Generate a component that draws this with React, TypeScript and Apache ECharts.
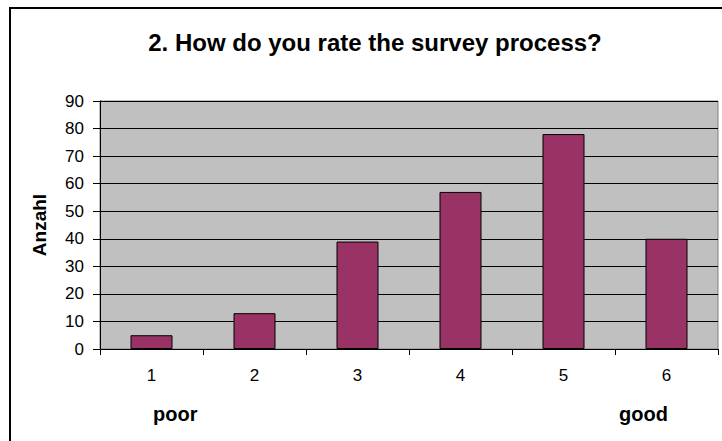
import React, { useEffect, useRef } from "react";
import * as echarts from "echarts";

const categories = ["1", "2", "3", "4", "5", "6"];
const counts = [5, 13, 39, 57, 78, 40];
const titleText = "2. How do you rate the survey process?";
const yAxisName = "Anzahl";
const lowLabel = "poor";
const highLabel = "good";

const FONT = "'Liberation Sans', Arial, sans-serif";

export default function App() {
  const ref = useRef<HTMLDivElement>(null);
  useEffect(() => {
    if (!ref.current) return;
    const chart = echarts.init(ref.current, null, { renderer: "svg" });
    chart.setOption({
      animation: false,
      backgroundColor: "#ffffff",
      title: {
        text: titleText,
        left: 370,
        top: 25,
        textAlign: "center",
        textStyle: { fontFamily: FONT, fontSize: 24, fontWeight: "bold", color: "#000" },
      },
      grid: {
        left: 100,
        top: 101,
        width: 618,
        height: 248,
        show: true,
        backgroundColor: "#C0C0C0",
        borderColor: "#808080",
        borderWidth: 1,
      },
      xAxis: {
        type: "category",
        data: categories,
        axisLine: { show: true, lineStyle: { color: "#000", width: 1 } },
        axisTick: { show: true, length: 6, lineStyle: { color: "#000" } },
        axisLabel: { fontFamily: FONT, fontSize: 17, color: "#000", margin: 18 },
      },
      yAxis: {
        type: "value",
        min: 0,
        max: 90,
        interval: 10,
        name: yAxisName,
        nameLocation: "middle",
        nameGap: 51,
        nameTextStyle: { fontFamily: FONT, fontSize: 19, fontWeight: "bold", color: "#000" },
        axisLine: { show: true, lineStyle: { color: "#000", width: 1 } },
        axisTick: { show: true, length: 7, lineStyle: { color: "#000" } },
        axisLabel: { fontFamily: FONT, fontSize: 17, color: "#000", margin: 16 },
        splitLine: { show: true, lineStyle: { color: "#000", width: 1 } },
      },
      series: [
        {
          type: "bar",
          data: counts,
          barWidth: 42,
          itemStyle: { color: "#993366", borderColor: "#000", borderWidth: 1 },
        },
      ],
      graphic: [
        {
          type: "line",
          shape: { x1: 10, y1: 8, x2: 10, y2: 441 },
          style: { stroke: "#000", lineWidth: 2 },
        },
        {
          type: "line",
          shape: { x1: 9, y1: 8, x2: 722, y2: 8 },
          style: { stroke: "#000", lineWidth: 2 },
        },
        {
          type: "text",
          left: 153,
          top: 404,
          style: { text: lowLabel, font: `bold 20px ${FONT}`, fill: "#000" },
        },
        {
          type: "text",
          left: 619,
          top: 404,
          style: { text: highLabel, font: `bold 20px ${FONT}`, fill: "#000" },
        },
      ],
    });
    return () => chart.dispose();
  }, []);
  return (
    <div
      ref={ref}
      style={{ position: "absolute", left: 0, top: 0, width: 722, height: 441 }}
    />
  );
}
